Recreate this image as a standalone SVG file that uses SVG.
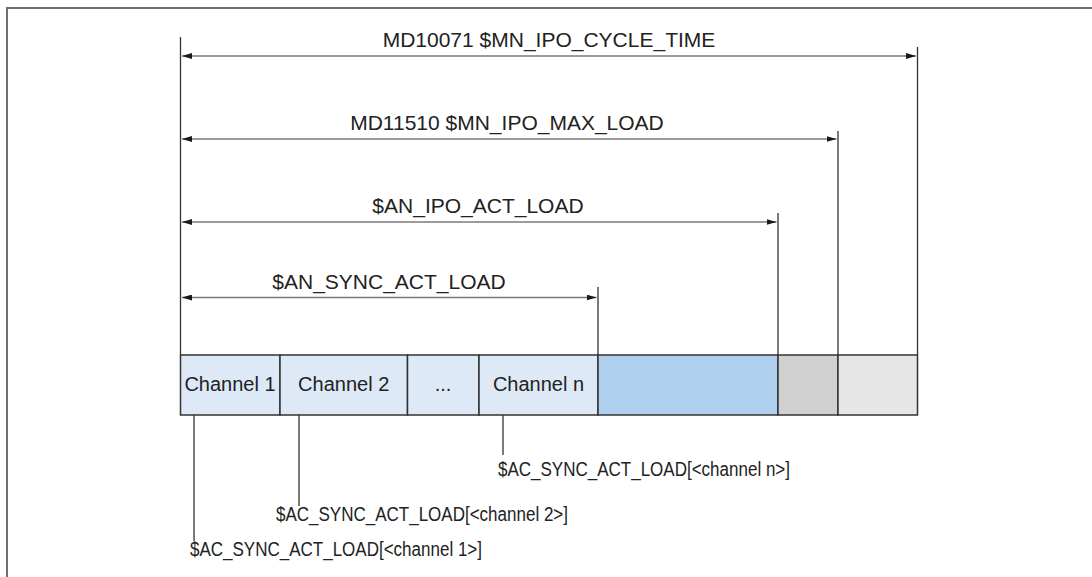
<svg xmlns="http://www.w3.org/2000/svg" width="1092" height="577" viewBox="0 0 1092 577">
<defs>
<marker id="ah" viewBox="0 0 10 6" refX="10" refY="3" markerWidth="10" markerHeight="6" markerUnits="userSpaceOnUse" orient="auto-start-reverse">
<path d="M0,0 L10,3 L0,6 Z" fill="#1a1a1a"/>
</marker>
</defs>
<style>
.frame{fill:none;stroke:#6e6e6e;stroke-width:2}
.dim{stroke:#7a7a7a;stroke-width:1.3;fill:none}
.ext{stroke:#333;stroke-width:1.3;fill:none}
.cell{stroke:#333;stroke-width:1.5}
.ch{fill:#dde9f7}
.t{font-family:"Liberation Sans",Arial,sans-serif;fill:#222}
.lbl{font-size:21px;text-anchor:middle}
.cl{font-size:20px;text-anchor:middle}
.bl{font-size:19.5px}
</style>
<path class="frame" d="M7,577 L7,8 L1092,8"/>
<g id="connectors">
<line class="ext" x1="180.5" y1="37" x2="180.5" y2="355"/>
<line class="ext" x1="917.5" y1="47" x2="917.5" y2="355"/>
<line class="ext" x1="838" y1="131" x2="838" y2="355"/>
<line class="ext" x1="778" y1="213" x2="778" y2="355"/>
<line class="ext" x1="598" y1="287" x2="598" y2="355"/>
<line class="dim" x1="182" y1="56" x2="916" y2="56" marker-start="url(#ah)" marker-end="url(#ah)"/>
<line class="dim" x1="182" y1="139" x2="836.5" y2="139" marker-start="url(#ah)" marker-end="url(#ah)"/>
<line class="dim" x1="182" y1="222" x2="776.5" y2="222" marker-start="url(#ah)" marker-end="url(#ah)"/>
<line class="dim" x1="182" y1="297.5" x2="596.5" y2="297.5" marker-start="url(#ah)" marker-end="url(#ah)"/>
<line class="ext" x1="194" y1="415" x2="194" y2="541"/>
<line class="ext" x1="299" y1="415" x2="299" y2="506"/>
<line class="ext" x1="503" y1="415" x2="503" y2="455"/>
</g>
<g id="label-cycle"><text class="t lbl" x="549" y="47">MD10071 $MN_IPO_CYCLE_TIME</text></g>
<g id="label-maxload"><text class="t lbl" x="507" y="130">MD11510 $MN_IPO_MAX_LOAD</text></g>
<g id="label-ipoact"><text class="t lbl" x="478" y="213">$AN_IPO_ACT_LOAD</text></g>
<g id="label-syncact"><text class="t lbl" x="389" y="289">$AN_SYNC_ACT_LOAD</text></g>
<g id="cell-ch1"><rect class="cell ch" x="180.5" y="355" width="99.5" height="60"/><text class="t cl" x="230" y="391">Channel 1</text></g>
<g id="cell-ch2"><rect class="cell ch" x="280" y="355" width="127.5" height="60"/><text class="t cl" x="343.7" y="391">Channel 2</text></g>
<g id="cell-dots"><rect class="cell ch" x="407.5" y="355" width="71.5" height="60"/><text class="t cl" x="443" y="391">...</text></g>
<g id="cell-chn"><rect class="cell ch" x="479" y="355" width="119" height="60"/><text class="t cl" x="538.5" y="391">Channel n</text></g>
<g id="cell-sync"><rect class="cell" x="598" y="355" width="180" height="60" fill="#afcfee"/></g>
<g id="cell-ipo"><rect class="cell" x="778" y="355" width="60" height="60" fill="#d0d0d0"/></g>
<g id="cell-max"><rect class="cell" x="838" y="355" width="79.5" height="60" fill="#e6e6e6"/></g>
<g id="label-chn"><text class="t bl" x="498" y="476" textLength="292" lengthAdjust="spacingAndGlyphs">$AC_SYNC_ACT_LOAD[&lt;channel n&gt;]</text></g>
<g id="label-ch2"><text class="t bl" x="276" y="521" textLength="292" lengthAdjust="spacingAndGlyphs">$AC_SYNC_ACT_LOAD[&lt;channel 2&gt;]</text></g>
<g id="label-ch1"><text class="t bl" x="190" y="556" textLength="292" lengthAdjust="spacingAndGlyphs">$AC_SYNC_ACT_LOAD[&lt;channel 1&gt;]</text></g>
</svg>
